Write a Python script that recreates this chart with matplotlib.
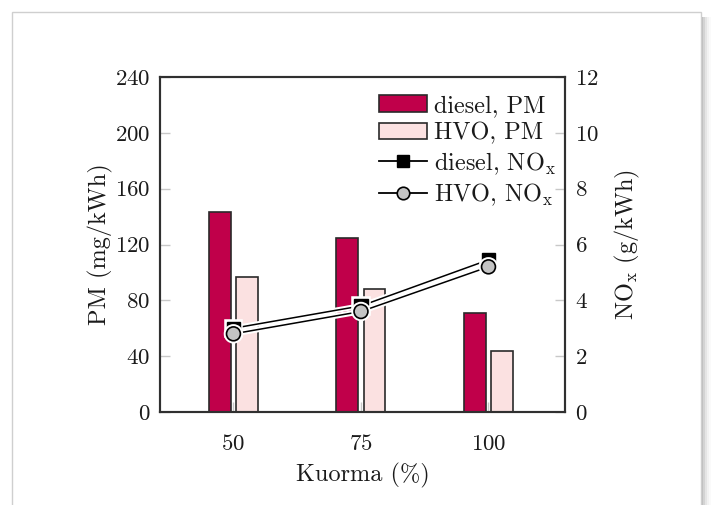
import numpy as np
import matplotlib
matplotlib.use('Agg')
import matplotlib.pyplot as plt
import matplotlib.patheffects as pe
from matplotlib.patches import Rectangle, Patch
from matplotlib.lines import Line2D

plt.rcParams['font.family'] = ['cmr10', 'DejaVu Serif']
plt.rcParams['mathtext.fontset'] = 'cm'
plt.rcParams['axes.formatter.use_mathtext'] = True

# data
loads = [50, 75, 100]
pm_diesel = [143, 125, 71]
pm_hvo = [97, 88, 44]
nox_diesel = [3.0, 3.8, 5.45]
nox_hvo = [2.8, 3.6, 5.2]

c_diesel = '#c0004a'
c_hvo = '#fbe1e1'
c_text = '#1a1a1a'

fig = plt.figure(figsize=(7.11, 5.05), dpi=100)

# page frame and shadow
for i, a in enumerate([0.10, 0.07, 0.05, 0.03, 0.02]):
    fig.patches.append(Rectangle((701 / 711, -0.1), (2 + 2 * i) / 711, 493 / 505 + 0.1 - 0.01,
                                 transform=fig.transFigure, facecolor='black', alpha=a,
                                 edgecolor='none', zorder=0))
fig.patches.append(Rectangle((12 / 711, -0.1), 689 / 711, 493 / 505 + 0.1,
                             transform=fig.transFigure, facecolor='white',
                             edgecolor='#cfcfcf', lw=1.0, zorder=1))

ax = fig.add_axes([160 / 711, 1 - 412 / 505, 405 / 711, 335 / 505])
ax.set_zorder(2)
ax2 = ax.twinx()

x = np.array(loads, dtype=float)
w = 4.3
off = 2.65
ax.bar(x - off, pm_diesel, w, color=c_diesel, edgecolor='#2a2a2a', lw=1.2)
ax.bar(x + off, pm_hvo, w, color=c_hvo, edgecolor='#2a2a2a', lw=1.2)

halo = [pe.Stroke(linewidth=4.0, foreground='white'), pe.Normal()]
ax2.plot(x, nox_diesel, color='black', lw=1.1, marker='s', ms=9.5, mfc='black', mec='black',
         path_effects=halo)
ax2.plot(x, nox_hvo, color='black', lw=1.1, marker='o', ms=10, mfc='#c4c4c4', mec='black',
         mew=1.2, path_effects=halo)

ax.set_xlim(35.6, 115)
ax.set_ylim(0, 240)
ax2.set_ylim(0, 12)
ax.set_xticks(loads)
ax.set_yticks(np.arange(0, 241, 40))
ax2.set_yticks(np.arange(0, 13, 2))

for a in (ax, ax2):
    for s in a.spines.values():
        s.set_linewidth(1.5)
        s.set_color('#303030')
    a.tick_params(direction='in', length=7, width=1.0, color='#c8c8c8', labelsize=16.5,
                  labelcolor=c_text, pad=7)
ax.tick_params(axis='y', right=False)
ax.tick_params(axis='x', pad=16)

ax.set_xlabel('Kuorma (%)', fontsize=17.5, color=c_text, labelpad=6.5)
ax.set_ylabel('PM (mg/kWh)', fontsize=17.5, color=c_text, labelpad=1)
ax2.set_ylabel(r'NO$_\mathrm{x}$ (g/kWh)', fontsize=17.5, color=c_text, labelpad=10)

handles = [
    Patch(facecolor=c_diesel, edgecolor='#2a2a2a', lw=1.2),
    Patch(facecolor=c_hvo, edgecolor='#2a2a2a', lw=1.2),
    Line2D([], [], color='black', lw=1.3, marker='s', ms=9, mfc='black', mec='black'),
    Line2D([], [], color='black', lw=1.3, marker='o', ms=9, mfc='#c4c4c4', mec='black', mew=1.2),
]
labels = ['diesel, PM', 'HVO, PM', r'diesel, NO$_\mathrm{x}$', r'HVO, NO$_\mathrm{x}$']
leg = ax2.legend(handles, labels, loc='upper right', bbox_to_anchor=(1.0, 1 - 9 / 335),
                 frameon=False, fontsize=17.5,
                 handlelength=1.95, handleheight=0.65, handletextpad=0.3, labelspacing=0.22,
                 borderaxespad=0.07, borderpad=0.3)
for t in leg.get_texts():
    t.set_color(c_text)

fig.savefig('out.png', dpi=100)
